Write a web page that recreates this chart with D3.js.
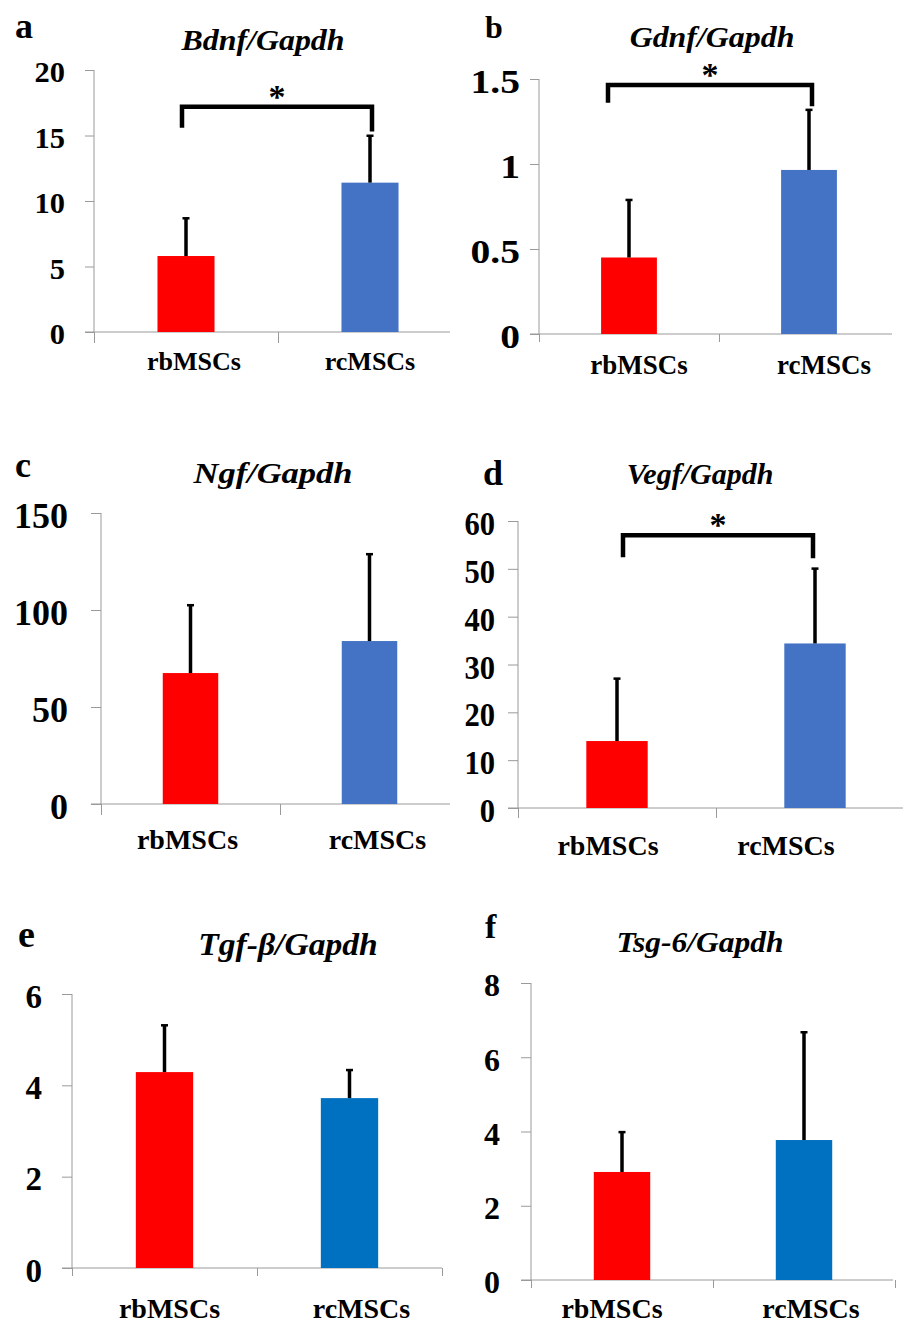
<!DOCTYPE html>
<html>
<head>
<meta charset="utf-8">
<script src="https://cdn.jsdelivr.net/npm/d3@7"></script>
<style>
  body { margin: 0; background: #fff; }
  svg { display: block; }
  text { font-family: "Liberation Serif", "Times New Roman", serif; font-weight: bold; fill: #000; }
</style>
</head>
<body>
<svg id="fig" width="903" height="1327" font-family="Liberation Serif, serif"></svg>
<script>
// groups on the x axis
var categories = ["rbMSCs", "rcMSCs"];

// mean and SD (only the upper half of the error bar is drawn)
var bdnfMean = [5.8, 11.4],  bdnfSd = [2.9, 3.6];
var gdnfMean = [0.45, 0.965], gdnfSd = [0.34, 0.355];
var ngfMean  = [67.5, 84],   ngfSd  = [35.1, 44.9];
var vegfMean = [14.0, 34.4], vegfSd = [13.1, 15.7];
var tgfMean  = [4.29, 3.72], tgfSd  = [1.03, 0.62];
var tsgMean  = [2.91, 3.77], tsgSd  = [1.08, 2.91];

// y tick labels
var bdnfTicks = [0, 5, 10, 15, 20];
var gdnfTicks = [0, 0.5, 1, 1.5];
var ngfTicks  = [0, 50, 100, 150];
var vegfTicks = [0, 10, 20, 30, 40, 50, 60];
var tgfTicks  = [0, 2, 4, 6];
var tsgTicks  = [0, 2, 4, 6, 8];

// significance brackets: [top, left leg end, right leg end]
var bdnfBracket = [17.2, 15.6, 15.3];
var gdnfBracket = [1.465, 1.36, 1.34];
var vegfBracket = [57.0, 52.4, 52.2];

var svg = d3.select("#fig");

function panel(o) {
  var g = svg.append("g");

  var x = d3.scaleBand()
    .domain(categories)
    .range([o.left, o.left + 2 * o.step])
    .paddingInner(0.69)
    .paddingOuter(0.345);
  var edge = d3.scaleLinear().domain([0, 2]).range([o.left, o.left + 2 * o.step]);
  var y = d3.scaleLinear().domain([0, o.ticks[o.ticks.length - 1]]).range([o.base, o.top]);
  var cx = function(i) { return x(categories[i]) + x.bandwidth() / 2; };

  // y axis
  var ya = g.append("g")
    .attr("transform", "translate(" + o.left + ",0)")
    .call(d3.axisLeft(y).tickValues(o.ticks).tickSize(o.tick).tickSizeOuter(0).tickPadding(o.pad)
      .tickFormat(function(d) { return d; }));
  ya.select(".domain").remove();
  ya.selectAll("line").attr("stroke", "#9a9a9a");
  ya.selectAll("text")
    .attr("font-size", o.tickFont)
    .attr("font-family", "Liberation Serif, serif")
    .attr("dy", "0.4em")
    .attr("fill", "#000")
    .attr("transform", function() {
      var tx = +d3.select(this).attr("x");
      d3.select(this).attr("x", 0);
      return "translate(" + tx + ",0) scale(" + o.tickSx + ",1)";
    });
  g.append("line")
    .attr("x1", o.left).attr("x2", o.left)
    .attr("y1", y.range()[1]).attr("y2", o.base)
    .attr("stroke", "#9a9a9a");

  // x axis
  var xa = g.append("g")
    .attr("transform", "translate(0," + o.base + ")")
    .call(d3.axisBottom(edge).tickValues(o.rightTick ? [0, 1, 2] : [0, 1]).tickSize(o.catTick).tickFormat(""));
  xa.select(".domain").remove();
  xa.selectAll("line").attr("stroke", "#9a9a9a");
  g.append("line")
    .attr("x1", o.left - o.tick).attr("x2", o.axisEnd)
    .attr("y1", o.base).attr("y2", o.base)
    .attr("stroke", "#9a9a9a");

  // bars
  g.selectAll(".bar")
    .data(o.mean)
    .enter().append("rect")
    .attr("class", "bar")
    .attr("x", function(d, i) { return x(categories[i]); })
    .attr("y", function(d) { return y(d); })
    .attr("width", x.bandwidth())
    .attr("height", function(d) { return o.base - y(d); })
    .style("fill", function(d, i) { return i == 0 ? "#ff0000" : o.blue; });

  // error bars
  g.selectAll(".err")
    .data(o.mean)
    .enter().append("line")
    .attr("class", "err")
    .attr("x1", function(d, i) { return cx(i); })
    .attr("x2", function(d, i) { return cx(i); })
    .attr("y1", function(d) { return y(d); })
    .attr("y2", function(d, i) { return y(d + o.sd[i]); })
    .attr("stroke", "#000")
    .attr("stroke-width", 3.5);
  g.selectAll(".cap")
    .data(o.mean)
    .enter().append("rect")
    .attr("class", "cap")
    .attr("x", function(d, i) { return cx(i) - 3.5; })
    .attr("y", function(d, i) { return y(d + o.sd[i]) - 1; })
    .attr("width", 7)
    .attr("height", 2.5)
    .style("fill", "#000");

  // bracket + star
  if (o.bracket) {
    var b = o.bracket, xl = cx(0) + o.brDx[0], xr = cx(1) + o.brDx[1];
    g.append("path")
      .attr("d", "M" + xl + "," + y(b[1]) + "V" + y(b[0]) + "H" + xr + "V" + y(b[2]))
      .attr("fill", "none")
      .attr("stroke", "#000")
      .attr("stroke-width", 4.5);
    g.append("text")
      .attr("x", (xl + xr) / 2)
      .attr("y", y(b[0]) + 1)
      .attr("text-anchor", "middle")
      .attr("font-size", 34)
      .text("*");
  }

  // category labels
  g.selectAll(".cat")
    .data(categories)
    .enter().append("text")
    .attr("class", "cat")
    .attr("x", function(d, i) { return cx(i) + o.labDx[i]; })
    .attr("y", o.base + o.labY)
    .attr("text-anchor", "middle")
    .attr("font-size", o.labFont)
    .text(function(d) { return d; });

  // panel letter and title
  g.append("text")
    .attr("x", o.letterX).attr("y", o.letterY)
    .attr("font-size", o.letterFont)
    .text(o.letter);
  g.append("text")
    .attr("transform", "translate(" + o.titleX + "," + o.titleY + ") scale(" + o.titleSx + ",1)")
    .attr("text-anchor", "middle")
    .attr("font-size", o.titleFont)
    .attr("font-style", "italic")
    .text(o.title);
}

panel({ mean: bdnfMean, sd: bdnfSd, ticks: bdnfTicks, bracket: bdnfBracket, brDx: [-4, 2],
  left: 94, step: 184, axisEnd: 450, base: 332, top: 70, tick: 9, catTick: 11, pad: 20,
  tickFont: 29, tickSx: 1.05, labFont: 26, labY: 38, labDx: [8, 0], blue: "#4472c4",
  letter: "a", letterX: 15, letterY: 38, letterFont: 36,
  title: "Bdnf/Gapdh", titleX: 263, titleY: 50, titleFont: 29, titleSx: 1.1 });

panel({ mean: gdnfMean, sd: gdnfSd, ticks: gdnfTicks, bracket: gdnfBracket, brDx: [-21, 3],
  left: 539, step: 180, axisEnd: 892, base: 334, top: 79, tick: 9, catTick: 8, pad: 10,
  tickFont: 33, tickSx: 1.2, labFont: 27, labY: 40, labDx: [10, 15], blue: "#4472c4",
  letter: "b", letterX: 485, letterY: 38, letterFont: 32,
  title: "Gdnf/Gapdh", titleX: 712, titleY: 47, titleFont: 29, titleSx: 1.1 });

panel({ mean: ngfMean, sd: ngfSd, ticks: ngfTicks,
  left: 101, step: 179, axisEnd: 450, base: 804, top: 513, tick: 10, catTick: 11, pad: 23,
  tickFont: 36, tickSx: 1, labFont: 28, labY: 45, labDx: [-3, 8], blue: "#4472c4",
  letter: "c", letterX: 15, letterY: 477, letterFont: 36,
  title: "Ngf/Gapdh", titleX: 273, titleY: 483, titleFont: 30, titleSx: 1.15 });

panel({ mean: vegfMean, sd: vegfSd, ticks: vegfTicks, bracket: vegfBracket, brDx: [6, -2],
  left: 518, step: 198, axisEnd: 903, base: 808, top: 521, tick: 10, catTick: 10, pad: 13,
  tickFont: 34, tickSx: 0.9, labFont: 28, labY: 47, labDx: [-9, -29], blue: "#4472c4",
  letter: "d", letterX: 483, letterY: 485, letterFont: 36,
  title: "Vegf/Gapdh", titleX: 700, titleY: 484, titleFont: 30, titleSx: 1 });

panel({ mean: tgfMean, sd: tgfSd, ticks: tgfTicks, rightTick: true,
  left: 72, step: 185, axisEnd: 442, base: 1268, top: 994, tick: 10, catTick: 8, pad: 20,
  tickFont: 33, tickSx: 1, labFont: 28, labY: 50, labDx: [5, 12], blue: "#0070c0",
  letter: "e", letterX: 18, letterY: 947, letterFont: 38,
  title: "Tgf-β/Gapdh", titleX: 288, titleY: 955, titleFont: 32, titleSx: 1.05 });

panel({ mean: tsgMean, sd: tsgSd, ticks: tsgTicks, rightTick: true,
  left: 531, step: 182, axisEnd: 893, base: 1280, top: 983, tick: 10, catTick: 8, pad: 21,
  tickFont: 32, tickSx: 1, labFont: 28, labY: 38, labDx: [-10, 7], blue: "#0070c0",
  letter: "f", letterX: 485, letterY: 938, letterFont: 34,
  title: "Tsg-6/Gapdh", titleX: 700, titleY: 952, titleFont: 30, titleSx: 1.05 });
</script>
</body>
</html>
